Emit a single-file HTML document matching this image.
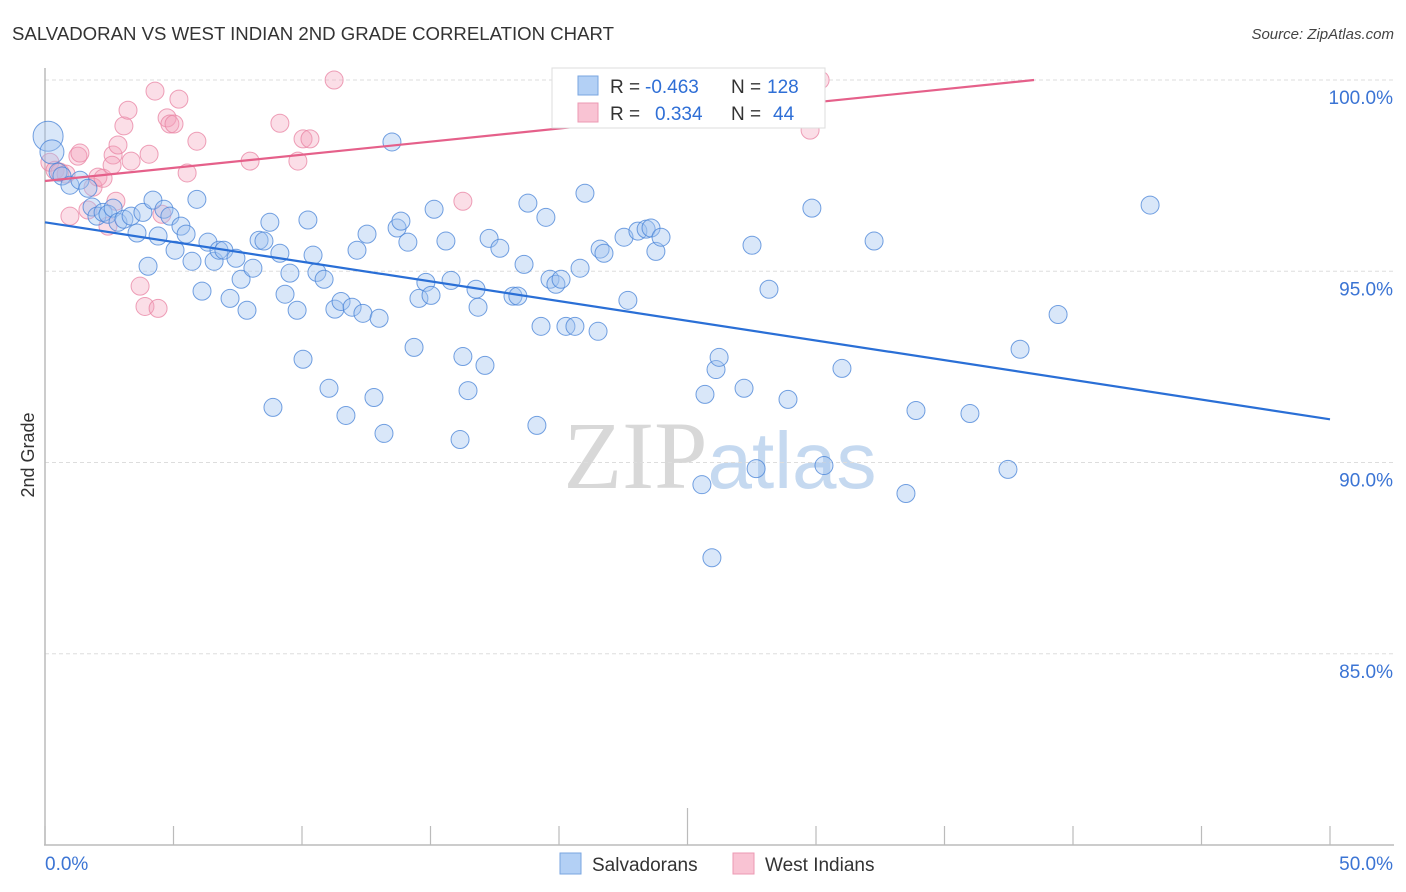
<!DOCTYPE html>
<html><head><meta charset="utf-8">
<style>
body{margin:0;background:#fff;font-family:"Liberation Sans",sans-serif;}
svg{display:block}
</style></head>
<body>
<svg id="chart" width="1406" height="892" viewBox="0 0 1406 892" xmlns="http://www.w3.org/2000/svg">
<text x="12" y="40" font-size="18" fill="#333" textLength="602" lengthAdjust="spacingAndGlyphs">SALVADORAN VS WEST INDIAN 2ND GRADE CORRELATION CHART</text>
<text x="1394" y="39" font-size="15" fill="#444" text-anchor="end" font-style="italic">Source: ZipAtlas.com</text>
<text x="720" y="488" font-size="96" text-anchor="middle" font-family="Liberation Serif,serif"><tspan fill="#d8d8d8">ZIP</tspan><tspan fill="#c5d9f0" font-family="Liberation Sans,sans-serif" font-size="80">atlas</tspan></text>
<g id="grid"></g>
<g id="axes"></g>
<g id="pts"></g>
<g id="trend"></g>
<text transform="translate(34,455) rotate(-90)" font-size="18" fill="#333" text-anchor="middle">2nd Grade</text>
<g>
<rect x="552" y="68" width="273" height="60" fill="#fff" stroke="#ddd"/>
<rect x="578" y="76" width="20" height="19" fill="#b3d0f5" stroke="#7aa6e0"/>
<rect x="578" y="103" width="20" height="19" fill="#f9c3d3" stroke="#ec9ab3"/>
<text x="610" y="93" font-size="19" fill="#333">R = <tspan fill="#2f6fd6" x="645">-0.463</tspan><tspan x="731">N = </tspan><tspan fill="#2f6fd6" x="767">128</tspan></text>
<text x="610" y="120" font-size="19" fill="#333">R = <tspan fill="#2f6fd6" x="655">0.334</tspan><tspan x="731">N = </tspan><tspan fill="#2f6fd6" x="773">44</tspan></text>
</g>
<g>
<rect x="560" y="853" width="21" height="21" fill="#b3d0f5" stroke="#7aa6e0"/>
<text x="592" y="871" font-size="19" fill="#333">Salvadorans</text>
<rect x="733" y="853" width="21" height="21" fill="#f9c3d3" stroke="#ec9ab3"/>
<text x="765" y="871" font-size="19" fill="#333">West Indians</text>
</g>
</svg>
<script>
const blueX=[0.12,0.27,0.51,0.66,0.97,1.36,1.67,1.83,2.02,2.26,2.45,2.65,2.84,3.07,3.35,3.58,3.81,4.01,4.20,4.40,4.63,4.86,5.06,5.29,5.49,5.72,5.91,6.11,6.34,6.58,6.77,6.96,7.20,7.43,7.63,7.86,8.09,8.33,8.52,8.75,8.87,9.14,9.34,9.53,9.81,10.04,10.23,10.43,10.58,10.86,11.05,11.28,11.52,11.71,11.95,12.14,12.37,12.53,12.80,13.00,13.19,13.50,13.70,13.85,14.12,14.36,14.55,14.82,15.02,15.14,15.60,15.80,16.15,16.26,16.46,16.77,16.85,17.12,17.28,17.70,18.21,18.40,18.64,18.79,19.14,19.30,19.49,19.65,19.88,20.08,20.27,20.62,20.82,21.01,21.52,21.60,21.75,22.53,22.68,23.07,23.39,23.58,23.77,23.97,24.90,25.56,25.68,25.95,26.11,26.23,27.20,27.51,27.67,28.17,28.91,29.84,30.31,31.01,32.26,33.50,33.89,35.99,37.47,37.94,39.42,43.00];
const blueY=[98.53,98.12,97.59,97.49,97.25,97.38,97.17,96.68,96.44,96.54,96.49,96.65,96.28,96.36,96.44,96.0,96.54,95.13,96.86,95.92,96.62,96.44,95.55,96.18,95.97,95.26,96.88,94.48,95.76,95.26,95.55,95.55,94.29,95.34,94.79,93.98,95.08,95.81,95.79,96.28,91.44,95.47,94.40,94.95,93.98,92.70,96.34,95.42,94.97,94.79,91.94,94.01,94.21,91.23,94.06,95.55,93.90,95.97,91.70,93.77,90.76,98.38,96.13,96.31,95.76,93.01,94.29,94.71,94.37,96.62,95.79,94.76,90.60,92.77,91.88,94.53,94.06,92.54,95.86,95.60,94.35,94.35,95.18,96.78,90.97,93.56,96.41,94.79,94.66,94.79,93.56,93.56,95.08,97.04,93.43,95.58,95.47,95.89,94.24,96.05,96.10,96.13,95.52,95.89,100,89.42,91.78,87.51,92.43,92.75,91.94,95.68,89.84,94.53,91.65,96.65,89.92,92.46,95.79,89.19,91.36,91.28,89.82,92.96,93.87,96.73];
const pinkX=[0.19,0.39,0.58,0.82,0.97,1.28,1.36,1.67,1.87,2.06,2.26,2.45,2.65,2.76,2.84,3.07,3.23,3.35,3.70,3.89,4.05,4.28,4.40,4.55,4.75,4.86,5.02,5.21,5.53,5.91,7.98,9.14,9.84,10.04,10.31,11.25,16.26,29.77,30.16,2.61];
const pinkY=[97.85,97.64,97.59,97.54,96.44,98.01,98.09,96.60,97.20,97.46,97.43,96.18,98.04,96.83,98.30,98.80,99.21,97.88,94.61,94.08,98.06,99.71,94.03,96.49,99.01,98.85,98.85,99.50,97.57,98.40,97.88,98.87,97.88,98.46,98.46,100,96.83,98.69,100,97.77];
const blueTrend=[96.28,91.13];
const pinkTrend=[97.36,0.0686];
const yTicks=[100,95,90,85];
const yTickLabels=["100.0%","95.0%","90.0%","85.0%"];
const xTicks=[0,5,10,15,20,25,30,35,40,45,50];

const NS="http://www.w3.org/2000/svg";
const sx=v=>45+v*25.7;
const sy=v=>845-(v-80)*38.25;
function mk(p,t,a){const e=document.createElementNS(NS,t);for(const k in a)e.setAttribute(k,a[k]);p.appendChild(e);return e;}
const grid=document.getElementById('grid'),axes=document.getElementById('axes'),pts=document.getElementById('pts'),trend=document.getElementById('trend');
yTicks.forEach((t,i)=>{
 const l=mk(grid,'line',{x1:45,x2:1394,y1:sy(t),y2:sy(t),stroke:'#ddd','stroke-dasharray':'4,3'});
 
 
 const tx=mk(axes,'text',{x:1393,y:sy(t)+24,'font-size':19,fill:'#3b74d4','text-anchor':'end'});
 tx.textContent=yTickLabels[i];
 
 
});
mk(axes,'line',{x1:45,x2:45,y1:68,y2:845,stroke:'#bbb','stroke-width':1.5});
mk(axes,'line',{x1:44,x2:1394,y1:845,y2:845,stroke:'#bbb','stroke-width':1.5});
xTicks.forEach(t=>{
 const tk=mk(axes,'line',{x1:sx(t),x2:sx(t),y1:t===25?808:826,y2:845,stroke:'#bbb','stroke-width':1.2});
 
 
});
const xl0=mk(axes,'text',{x:45,y:870,'font-size':19,fill:'#3b74d4'});xl0.textContent='0.0%';


const xl1=mk(axes,'text',{x:1393,y:870,'font-size':19,fill:'#3b74d4','text-anchor':'end'});xl1.textContent='50.0%';



pinkX.forEach((x,i)=>{
 const c=mk(pts,'circle',{cx:sx(x),cy:sy(pinkY[i]),r:9,fill:'rgba(244,160,186,0.35)',stroke:'rgba(232,130,162,0.75)','stroke-width':1});
 
 
});
blueX.forEach((x,i)=>{
 const r=i===0?15:(i===1?12:9);
 const c=mk(pts,'circle',{cx:sx(x),cy:sy(blueY[i]),r:r,fill:'rgba(160,196,240,0.4)',stroke:'rgba(70,130,215,0.75)','stroke-width':1});
 
 
});
const bl=mk(trend,'line',{x1:sx(0),y1:sy(blueTrend[0]),x2:sx(50),y2:sy(blueTrend[1]),stroke:'#2a6fd6','stroke-width':2.2});


const xEnd=Math.min(50,(100-pinkTrend[0])/pinkTrend[1]);
const pl=mk(trend,'line',{x1:sx(0),y1:sy(pinkTrend[0]),x2:sx(xEnd),y2:sy(pinkTrend[0]+pinkTrend[1]*xEnd),stroke:'#e5608a','stroke-width':2.2});


</script>
</body></html>
